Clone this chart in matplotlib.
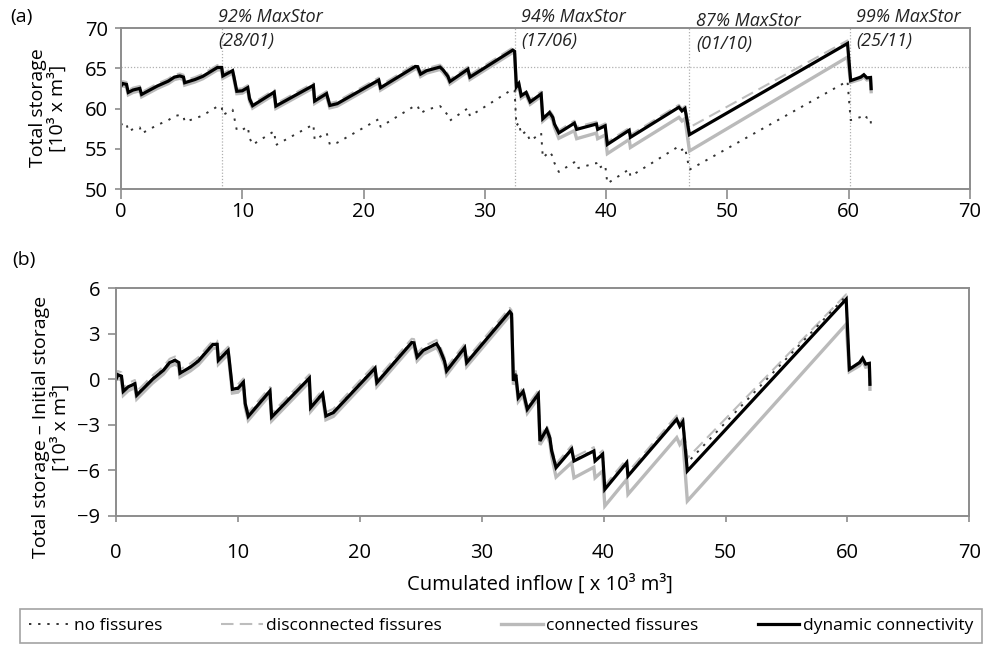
import numpy as np
import matplotlib
matplotlib.use("Agg")
import matplotlib.pyplot as plt
from matplotlib.lines import Line2D

plt.rcParams['font.family'] = ['Open Sans', 'DejaVu Sans']

# cumulated inflow at the break points of the curves [10^3 m3]
inflow = [0.0, 0.15, 0.45, 0.6, 1.0, 1.55, 1.7, 3.0, 3.9, 4.4, 4.85, 5.15, 5.25, 6.1, 6.75, 7.95,
          8.3, 8.4, 9.2, 9.3, 9.55, 10.0, 10.45, 10.6, 10.85, 12.63, 12.77, 15.86, 15.97, 16.95,
          17.22, 17.83, 21.25, 21.4, 24.26, 24.45, 24.7, 25.2, 26.3, 26.55, 26.95, 27.12, 28.6,
          28.77, 32.3, 32.45, 32.6, 32.8, 33.0, 33.4, 33.74, 34.64, 34.78, 35.33, 35.6, 35.74,
          36.1, 37.38, 37.57, 39.2, 39.3, 39.92, 40.1, 41.9, 42.0, 46.0, 46.25, 46.5, 46.87,
          59.9, 60.16, 61.0, 61.25, 61.5, 61.8, 61.85]

# total storage - initial storage [10^3 m3]
d_no_fiss = [0.0, 0.35, 0.25, -0.75, -0.45, -0.25, -1.0, 0.05, 0.65, 1.15, 1.3, 1.15, 0.45, 0.85,
             1.25, 2.35, 2.35, 1.3, 1.95, 1.25, -0.61, -0.55, -0.15, -1.55, -2.4, -0.72, -2.44,
             0.12, -1.82, -0.9, -2.37, -2.15, 0.78, -0.17, 2.47, 2.45, 1.52, 1.95, 2.4, 2.05, 1.25,
             0.6, 2.13, 1.15, 4.51, 4.35, -0.05, 0.35, -1.16, -0.75, -1.93, -0.94, -4.02, -3.25,
             -3.85, -4.68, -5.78, -4.57, -5.34, -4.68, -5.34, -4.9, -7.21, -5.45, -6.33, -2.59,
             -3.05, -2.75, -5.5, 5.5, 0.65, 1.05, 1.35, 0.95, 1.0, -0.4]
d_disconn = [0.0, 0.55, 0.45, -0.55, -0.25, -0.05, -0.8, 0.25, 0.85, 1.35, 1.5, 1.35, 0.65, 1.05,
             1.45, 2.55, 2.55, 1.5, 2.15, 1.45, -0.41, -0.35, 0.05, -1.35, -2.2, -0.52, -2.24,
             0.32, -1.62, -0.7, -2.17, -1.95, 0.98, 0.03, 2.67, 2.65, 1.72, 2.15, 2.6, 2.25, 1.45,
             0.8, 2.33, 1.35, 4.71, 4.55, 0.15, 0.55, -0.96, -0.55, -1.73, -0.74, -3.82, -3.05,
             -3.65, -4.48, -5.58, -4.37, -5.14, -4.48, -5.14, -4.7, -7.01, -5.25, -6.13, -2.39,
             -2.85, -2.55, -5.2, 5.6, 0.7, 1.15, 1.4, 1.0, 1.05, -0.3]
d_connect = [0.0, 0.05, -0.05, -1.05, -0.75, -0.55, -1.3, -0.25, 0.35, 0.85, 1.0, 0.85, 0.15, 0.55,
             0.95, 2.05, 2.05, 1.0, 1.65, 0.95, -0.91, -0.85, -0.45, -1.85, -2.7, -1.02, -2.74,
             -0.18, -2.12, -1.2, -2.67, -2.45, 0.48, -0.47, 2.17, 2.15, 1.22, 1.65, 2.1, 1.75, 0.95,
             0.3, 1.83, 0.85, 4.21, 4.05, -0.35, 0.05, -1.46, -1.05, -2.23, -1.24, -4.32, -3.6,
             -4.2, -5.1, -6.45, -5.5, -6.5, -5.8, -6.5, -6.05, -8.36, -6.6, -7.59, -3.85, -4.3,
             -4.0, -8.03, 3.63, 0.5, 0.9, 1.2, 0.8, 0.85, -0.66]
d_dynamic = [0.0, 0.3, 0.2, -0.8, -0.5, -0.3, -1.05, 0.0, 0.6, 1.1, 1.25, 1.1, 0.4, 0.8, 1.2, 2.3,
             2.3, 1.25, 1.9, 1.2, -0.66, -0.6, -0.2, -1.6, -2.45, -0.77, -2.49, 0.07, -1.87, -0.95,
             -2.42, -2.2, 0.73, -0.22, 2.42, 2.4, 1.47, 1.9, 2.35, 2.0, 1.2, 0.55, 2.08, 1.1, 4.46,
             4.3, -0.1, 0.3, -1.21, -0.8, -1.98, -0.99, -4.07, -3.3, -3.9, -4.73, -5.83, -4.62,
             -5.39, -4.73, -5.39, -4.95, -7.26, -5.5, -6.38, -2.64, -3.1, -2.8, -6.05, 5.28, 0.66,
             1.1, 1.39, 1.0, 1.05, -0.33]

# initial storage of each model [10^3 m3]
init_no_fiss = 57.9
init_disconn = 62.85
init_connect = 62.75
init_dynamic = 62.8

# dates of maximum storage
event_x = [8.3, 32.45, 46.85, 60.1]
event_labels = ["92% MaxStor\n(28/01)", "94% MaxStor\n(17/06)", "87% MaxStor\n(01/10)", "99% MaxStor\n(25/11)"]
ref_storage = 65.1

series = [
    ("connected fissures", d_connect, init_connect, dict(color="#bababa", lw=2.4, ls="-")),
    ("disconnected fissures", d_disconn, init_disconn, dict(color="#bdbdbd", lw=1.5, ls=(0, (6, 3)))),
    ("no fissures", d_no_fiss, init_no_fiss, dict(color="#333333", lw=1.4, ls=(0, (1.2, 3.5)))),
    ("dynamic connectivity", d_dynamic, init_dynamic, dict(color="black", lw=2.3, ls="-")),
]

W, H = 983, 646
fig = plt.figure(figsize=(W / 100, H / 100), dpi=100)
ax_a = fig.add_axes([121 / W, 1 - 189 / H, 849 / W, 161 / H])
ax_b = fig.add_axes([116 / W, 1 - 515.7 / H, 853.3 / W, 227.4 / H])

x = np.array(inflow)
for name, d, init, style in series:
    ax_a.plot(x, np.array(d) + init, solid_joinstyle="miter", **style)
    ax_b.plot(x, d, solid_joinstyle="miter", **style)

# reference lines of panel (a)
ax_a.axhline(ref_storage, color="#b0b0b0", lw=0.9, ls=(0, (1, 1.5)), zorder=0)
for ex in event_x:
    ax_a.axvline(ex, color="#b0b0b0", lw=0.9, ls=(0, (1, 1.5)), zorder=0)
text_dx = [-0.3, 0.55, 0.55, 0.5]
text_y = [69.85, 69.85, 69.45, 69.85]
for ex, lab, dx, ty in zip(event_x, event_labels, text_dx, text_y):
    ax_a.text(ex + dx, ty, lab, fontsize=13, style="italic", ha="left", va="center",
              linespacing=1.4, color="#222222")

for ax in (ax_a, ax_b):
    ax.set_xlim(0, 70)
    ax.set_xticks(np.arange(0, 71, 10))
    for sp in ax.spines.values():
        sp.set_color("#8c8c8c")
        sp.set_linewidth(1.4)
    ax.tick_params(colors="#8c8c8c", labelcolor="black", labelsize=14.5, width=1.2)

ax_a.set_ylim(50, 70)
ax_a.set_yticks(np.arange(50, 71, 5))
ax_a.tick_params(axis="x", length=7, pad=2)
ax_a.tick_params(axis="y", length=4.5, pad=5)

ax_b.set_ylim(-9, 6)
ax_b.set_yticks(np.arange(-9, 7, 3))
ax_b.tick_params(axis="x", length=4.5, pad=15)
ax_b.tick_params(axis="y", length=5.5, pad=6)

fig.text(10 / W, 1 - 17 / H, "(a)", fontsize=14, ha="left", va="center")
fig.text(12 / W, 1 - 260 / H, "(b)", fontsize=14, ha="left", va="center")
fig.text(48 / W, 1 - 108 / H, "Total storage\n[10³ x m³]", fontsize=14, rotation=90,
         ha="center", va="center", multialignment="center", linespacing=1.05)
fig.text(51 / W, 1 - 427 / H, "Total storage – Initial storage\n[10³ x m³]", fontsize=14,
         rotation=90, ha="center", va="center", multialignment="center", linespacing=1.05)
fig.text(540 / W, 1 - 585 / H, "Cumulated inflow [ x 10³ m³]", fontsize=14.5, ha="center", va="center")

# legend
order = [2, 1, 0, 3]
handles = [Line2D([], [], **series[i][3]) for i in order]
labels = [series[i][0] for i in order]
leg = fig.legend(handles, labels, loc="upper left", bbox_to_anchor=(20 / W, 1 - 609 / H),
                 ncol=4, frameon=True, fancybox=False, edgecolor="#8c8c8c", fontsize=12.5,
                 handlelength=2.4, handletextpad=0.2, columnspacing=3.4, borderaxespad=0,
                 borderpad=0.5)
leg.get_frame().set_linewidth(1.2)

fig.savefig("out.png", dpi=100)
